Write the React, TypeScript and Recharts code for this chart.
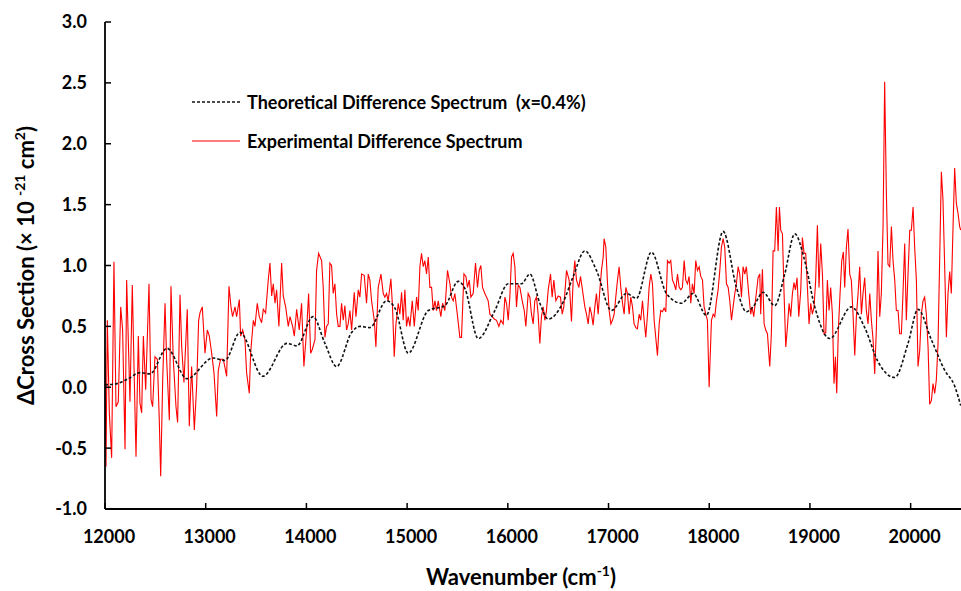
import React from 'react';
import { LineChart, Line, XAxis, YAxis, Legend } from 'recharts';

const FONT = "Lato, 'Open Sans', 'DejaVu Sans', sans-serif";

const xTicks = [12000, 13000, 14000, 15000, 16000, 17000, 18000, 19000, 20000];
const yTicks = [-1, -0.5, 0, 0.5, 1, 1.5, 2, 2.5, 3];

const seriesNames = ['Theoretical Difference Spectrum  (x=0.4%)', 'Experimental Difference Spectrum'];

const expWavenumbers = [
  12000, 12010, 12023, 12043, 12066, 12089, 12109, 12132, 12156, 12175, 12199, 12215, 12235, 12248, 12271, 12291,
  12308, 12331, 12347, 12364, 12381, 12404, 12437, 12457, 12473, 12496, 12520, 12539, 12553, 12573, 12596, 12612,
  12639, 12655, 12678, 12705, 12721, 12745, 12761, 12784, 12817, 12837, 12860, 12887, 12910, 12930, 12943, 12966,
  12993, 13016, 13036, 13059, 13082, 13109, 13125, 13148, 13175, 13208, 13231, 13251, 13267, 13291, 13307, 13334,
  13347, 13367, 13390, 13406, 13433, 13446, 13473, 13489, 13512, 13532, 13555, 13572, 13595, 13621, 13638, 13655,
  13671, 13688, 13704, 13727, 13754, 13770, 13794, 13820, 13837, 13863, 13880, 13903, 13929, 13952, 13975, 14002,
  14022, 14042, 14058, 14085, 14101, 14121,
  14151, 14167, 14184, 14200, 14217, 14233, 14250, 14266, 14283, 14300, 14316, 14333, 14349, 14366, 14382, 14399,
  14415, 14432, 14449, 14475, 14492, 14515, 14531, 14548, 14574, 14597, 14614, 14630, 14647, 14674, 14690, 14713,
  14740, 14763, 14779, 14796, 14812, 14839, 14855, 14872, 14889, 14912, 14928, 14945, 14961, 14978, 14994, 15011,
  15028, 15051, 15071, 15094, 15110, 15127, 15143, 15160, 15176, 15193, 15210, 15226, 15243, 15259, 15276, 15292,
  15309, 15335, 15352, 15375, 15401, 15425, 15441, 15458, 15474, 15501, 15524, 15540, 15564, 15584, 15600, 15617,
  15633, 15656, 15679, 15699, 15716, 15732, 15749, 15772, 15789, 15805, 15822, 15845, 15865, 15888, 15911, 15931,
  15954, 15971, 15987, 16004, 16020, 16037, 16053, 16070, 16086, 16103, 16120, 16143, 16163, 16179, 16202,
  16219, 16235, 16252, 16268, 16285, 16301, 16318, 16334, 16351, 16368, 16384, 16401, 16424, 16440, 16457, 16477,
  16500, 16523, 16540, 16556, 16583, 16609, 16632, 16649, 16665, 16682, 16705, 16722, 16741, 16765, 16781, 16798,
  16814, 16831, 16847, 16864, 16880, 16897, 16914, 16930, 16947, 16956, 16973, 16990, 17006, 17023, 17039, 17056,
  17072, 17089, 17105, 17122, 17139, 17155, 17172, 17188, 17205, 17221, 17238, 17254, 17271, 17287, 17304, 17320,
  17337, 17354, 17370, 17387, 17403, 17420, 17436, 17453, 17469, 17486, 17503, 17519, 17536, 17552, 17569, 17585,
  17602, 17618, 17635, 17651, 17668, 17685, 17701, 17718, 17734, 17751, 17767, 17784, 17800, 17817, 17833, 17850,
  17866, 17883, 17900, 17916, 17933, 17949, 17966, 17982, 17999, 18022, 18039, 18055, 18072, 18088, 18105, 18121,
  18138, 18154, 18171, 18188, 18204, 18221, 18237, 18254, 18270, 18287, 18303, 18320, 18336,
  18353, 18369, 18392, 18412, 18425, 18442, 18459, 18485, 18502, 18511, 18528, 18545, 18561, 18578, 18601, 18617,
  18634, 18650, 18667, 18684, 18697, 18710, 18727, 18743, 18760, 18776, 18793, 18809, 18826, 18842, 18856, 18872,
  18889, 18909, 18925, 18942, 18958, 18975, 18991, 19008, 19024, 19041, 19057, 19074, 19090, 19107, 19124, 19140,
  19157, 19173, 19190, 19206, 19223, 19239, 19253, 19266, 19282, 19299, 19316, 19332, 19345, 19362, 19378, 19395,
  19411, 19428, 19445, 19461, 19478, 19494, 19511, 19527, 19544, 19560, 19577, 19594, 19610, 19627, 19643, 19660,
  19676, 19693, 19709, 19726, 19742, 19759, 19775, 19792, 19809, 19825, 19842, 19858, 19875, 19891, 19908, 19924,
  19941, 19957, 19974, 19991, 20007, 20024, 20040, 20057, 20073, 20090, 20106, 20123, 20139, 20156, 20173, 20189,
  20206, 20222, 20239, 20255, 20272, 20288, 20305, 20321, 20338, 20355, 20371, 20388, 20404, 20421, 20437, 20454,
  20470, 20487, 20497,
];

const expValues = [
  0.30, -0.65, 0.55, -0.21, -0.58, 1.03, -0.16, -0.12, 0.66, 0.47, -0.51, 0.88, 0.28, -0.12, 0.84, 0.06,
  -0.57, 0.42, -0.13, -0.21, 0.42, -0.02, 0.85, -0.10, -0.16, 0.25, 0.23, -0.27, -0.73, 0.06, 0.69, 0.23,
  -0.27, 0.83, 0.23, -0.16, -0.29, 0.76, 0.34, 0.04, 0.64, -0.32, 0.17, -0.35, 0.01, 0.55, 0.61, 0.66,
  0.28, 0.47, 0.42, 0.28, 0.12, -0.24, 0.14, 0.23, 0.23, 0.09, 0.83, 0.66, 0.58, 0.66, 0.58, 0.72,
  0.42, 0.47, 0.39, 0.12, -0.05, 0.28, 0.55, 0.50, 0.69, 0.58, 0.53, 0.64, 0.61, 0.88, 1.02, 0.75,
  0.85, 0.69, 0.80, 0.50, 1.02, 0.75, 0.66, 0.50, 0.58, 0.50, 0.42, 0.64, 0.47, 0.69, 0.17, 0.47,
  0.77, 0.28, 0.31, 0.39, 0.96, 1.10,
  1.04, 0.82, 0.41, 0.50, 0.52, 1.02, 1.00, 0.77, 0.85, 0.60, 0.50, 0.50, 0.69, 0.55, 0.67, 0.47,
  0.52, 0.63, 0.47, 0.78, 0.58, 0.80, 0.74, 0.93, 0.92, 0.69, 0.93, 0.88, 0.71, 0.55, 0.33, 0.82,
  0.93, 0.77, 0.74, 0.77, 0.71, 0.89, 0.66, 0.25, 0.52, 0.69, 0.60, 0.78, 0.55, 0.80, 0.50, 0.58,
  0.50, 0.71, 0.50, 0.74, 0.63, 0.99, 1.10, 0.99, 1.04, 0.93, 1.07, 0.82, 0.82, 0.63, 0.71, 0.63,
  0.71, 0.58, 0.69, 0.63, 0.96, 0.85, 0.74, 0.71, 0.77, 0.58, 0.41, 0.41, 0.93, 0.91, 0.82, 0.88,
  0.74, 0.77, 1.02, 0.82, 0.96, 1.00, 0.82, 0.77, 0.74, 0.71, 0.60, 0.58, 0.56, 0.55, 0.50, 0.55,
  0.52, 0.74, 0.69, 0.55, 0.74, 1.07, 1.10, 0.99, 0.66, 0.84, 0.82, 0.71, 0.63, 0.50, 0.77,
  0.74, 0.60, 0.52, 0.71, 0.74, 0.60, 0.36, 0.58, 0.66, 0.55, 0.63, 0.80, 0.93, 0.74, 0.88, 0.71,
  0.75, 0.74, 0.60, 0.66, 0.96, 0.88, 0.54, 0.88, 1.04, 0.88, 0.82, 0.91, 0.80, 0.66, 0.60, 0.52,
  0.66, 0.60, 0.51, 0.66, 0.77, 0.60, 0.80, 0.96, 1.07, 1.22, 1.15, 0.85, 0.63, 0.52, 0.55, 0.60,
  0.74, 0.88, 0.99, 0.82, 0.69, 0.60, 0.82, 0.77, 0.60, 0.74, 0.66, 0.52, 0.49, 0.48, 0.60, 0.55,
  0.71, 0.55, 0.41, 0.60, 0.82, 0.93, 0.85, 0.55, 0.41, 0.26, 0.52, 0.63, 0.62, 0.65, 0.62, 1.04,
  1.02, 1.04, 0.88, 0.85, 0.80, 0.93, 0.82, 0.80, 0.82, 1.04, 0.88, 0.85, 0.91, 0.69, 0.85, 0.77,
  1.04, 0.96, 0.99, 0.91, 0.88, 0.66, 0.60, 0.55, 0.00, 0.55, 0.60, 0.58, 0.71, 0.80, 0.96, 1.15,
  1.22, 1.15, 0.85, 0.82, 0.71, 0.55, 0.66, 0.77, 0.85, 0.99, 0.93, 0.74, 0.99,
  0.93, 0.99, 0.77, 0.60, 0.66, 0.58, 0.71, 0.90, 0.93, 0.60, 0.97, 0.52, 0.47, 0.44, 0.17, 0.44,
  1.12, 1.12, 1.48, 1.12, 1.48, 1.29, 1.26, 0.77, 0.33, 0.49, 0.69, 0.58, 0.77, 0.86, 0.80, 0.90,
  0.58, 0.80, 1.23, 1.10, 1.10, 0.82, 0.52, 0.69, 0.60, 0.66, 0.88, 1.33, 0.82, 1.18, 0.93, 0.44,
  0.45, 0.88, 0.63, 0.82, 0.60, 0.03, 0.25, -0.05, 0.47, 0.77, 1.04, 1.11, 0.82, 1.15, 1.30, 0.93,
  0.88, 0.60, 0.26, 0.58, 0.77, 0.99, 0.60, 0.77, 0.90, 0.63, 0.52, 0.77, 0.55, 0.39, 0.11, 0.49,
  1.12, 0.58, 0.77, 1.32, 2.51, 1.59, 1.01, 0.99, 1.32, 1.04, 0.88, 0.63, 0.63, 0.44, 0.44, 0.77,
  1.18, 0.55, 0.93, 1.29, 1.29, 1.48, 1.15, 0.88, 0.17, 0.30, 0.60, 0.71, 0.74, 0.60, 0.33, -0.14,
  -0.11, 0.03, -0.05, 0.06, 0.36, 1.04, 1.77, 1.54, 0.99, 0.41, 0.77, 0.95, 0.77, 1.32, 1.80, 1.51,
  1.43, 1.32, 1.29,
];

const theoWavenumbers = [
  12000, 12119, 12230, 12347, 12447, 12615, 12814, 13072, 13191, 13340, 13568, 13806, 13906, 14065, 14184, 14300,
  14449, 14531, 14630, 14796, 14879, 15011, 15210, 15375, 15507, 15574, 15706, 15871, 16004, 16136, 16219, 16318,
  16401, 16550, 16649, 16765, 16880, 17029, 17178, 17277, 17426, 17575, 17724, 17840, 17972, 18138, 18270, 18369,
  18435, 18535, 18650, 18750, 18849, 18948, 19048, 19196, 19411, 19544, 19676, 19842, 19974, 20073, 20206, 20338,
  20437, 20497,
];

const theoValues = [
  0.02, 0.03, 0.07, 0.12, 0.11, 0.32, 0.07, 0.24, 0.22, 0.45, 0.09, 0.36, 0.34, 0.58, 0.36, 0.17,
  0.45, 0.50, 0.49, 0.71, 0.65, 0.28, 0.63, 0.67, 0.87, 0.81, 0.40, 0.63, 0.85, 0.85, 0.93, 0.69,
  0.56, 0.70, 0.91, 1.12, 0.96, 0.63, 0.77, 0.73, 1.11, 0.77, 0.69, 0.77, 0.59, 1.28, 0.82, 0.62,
  0.66, 0.78, 0.67, 0.93, 1.26, 1.04, 0.66, 0.40, 0.66, 0.49, 0.21, 0.08, 0.36, 0.64, 0.39, 0.14,
  0.01, -0.15,
];

const expData = expWavenumbers.map((wn, i) => ({ wn, v: expValues[i] }));
const theoData = theoWavenumbers.map((wn, i) => ({ wn, v: theoValues[i] }));

const XTick = (props: any) => {
  const { x, y, payload } = props;
  return (
    <text x={x + 4} y={y} dy="0.71em" textAnchor="middle" fill="#000" fontFamily={FONT} fontWeight={700} fontSize={18}>
      {payload.value}
    </text>
  );
};

const YTick = (props: any) => {
  const { x, y, payload } = props;
  return (
    <text x={x} y={y} dy="0.355em" textAnchor="end" fill="#000" fontFamily={FONT} fontWeight={700} fontSize={18}>
      {Number(payload.value).toFixed(1)}
    </text>
  );
};

const XTitle = (props: any) => {
  const vb = props.viewBox || { x: 105, y: 509, width: 856, height: 82 };
  const cx = vb.x + vb.width / 2 - 12;
  const cy = vb.y + 76;
  return (
    <text x={cx} y={cy} textAnchor="middle" fill="#000" fontFamily={FONT} fontWeight={700} fontSize={22}>
      Wavenumber (cm<tspan dy={-9} fontSize={14}>-1</tspan><tspan dy={9}>)</tspan>
    </text>
  );
};

const YTitle = (props: any) => {
  const vb = props.viewBox || { x: 0, y: 22, width: 105, height: 487 };
  const cx = vb.x + 34;
  const cy = vb.y + vb.height / 2;
  return (
    <text transform={`translate(${cx},${cy}) rotate(-90)`} x={0} y={0} textAnchor="middle" fill="#000" fontFamily={FONT} fontWeight={700} fontSize={22}>
      ΔCross Section (× 10 <tspan dy={-9} fontSize={14}>-21</tspan><tspan dy={9}> cm</tspan><tspan dy={-9} fontSize={14}>2</tspan><tspan dy={9}>)</tspan>
    </text>
  );
};

const renderLegend = () => (
  <div style={{ fontFamily: FONT, fontWeight: 700, fontSize: 18, color: '#000', lineHeight: '20px' }}>
    <div style={{ display: 'flex', alignItems: 'center', height: 20 }}>
      <svg width={56} height={10} style={{ flex: 'none' }}>
        <line x1={1} y1={5} x2={49} y2={5} stroke="#111" strokeWidth={1.5} strokeDasharray="3 2" />
      </svg>
      <span style={{ whiteSpace: 'pre' }}>{seriesNames[0]}</span>
    </div>
    <div style={{ display: 'flex', alignItems: 'center', height: 20, marginTop: 19 }}>
      <svg width={56} height={10} style={{ flex: 'none' }}>
        <line x1={1} y1={5} x2={49} y2={5} stroke="#ff0000" strokeWidth={1.2} />
      </svg>
      <span style={{ whiteSpace: 'pre' }}>{seriesNames[1]}</span>
    </div>
  </div>
);

export default function App() {
  return (
    <div style={{ position: 'absolute', left: 0, top: 0, width: 961, height: 591, background: '#fff' }}>
      <LineChart width={961} height={591} margin={{ top: 22, right: 0, bottom: 0, left: 0 }}>
        <XAxis
          dataKey="wn"
          type="number"
          domain={[12000, 20500]}
          ticks={xTicks}
          interval={0}
          allowDataOverflow
          height={82}
          tickSize={-6}
          tickMargin={27}
          tick={XTick}
          axisLine={{ stroke: '#000', strokeWidth: 1.8 }}
          tickLine={{ stroke: '#000', strokeWidth: 1.5 }}
          label={XTitle}
        />
        <XAxis
          xAxisId="top"
          orientation="top"
          type="number"
          domain={[12000, 20500]}
          ticks={xTicks}
          interval={0}
          allowDataOverflow
          height={0}
          tickSize={-6}
          tick={false}
          axisLine={{ stroke: '#000', strokeWidth: 1.8 }}
          tickLine={{ stroke: '#000', strokeWidth: 1.5 }}
        />
        <YAxis
          type="number"
          domain={[-1, 3]}
          ticks={yTicks}
          interval={0}
          allowDataOverflow
          width={105}
          tickSize={-6}
          tickMargin={24}
          tick={YTick}
          axisLine={{ stroke: '#000', strokeWidth: 1.8 }}
          tickLine={{ stroke: '#000', strokeWidth: 1.5 }}
          label={YTitle}
        />
        <Legend
          layout="vertical"
          align="center"
          verticalAlign="middle"
          content={renderLegend}
          wrapperStyle={{ left: 191, top: 92, width: 460 }}
        />
        <Line
          name={seriesNames[1]}
          data={expData}
          dataKey="v"
          type="linear"
          stroke="#ff0000"
          strokeWidth={1.1}
          dot={false}
          activeDot={false}
          isAnimationActive={false}
        />
        <Line
          name={seriesNames[0]}
          data={theoData}
          dataKey="v"
          type="monotone"
          stroke="#111"
          strokeWidth={1.6}
          strokeDasharray="3 2"
          dot={false}
          activeDot={false}
          isAnimationActive={false}
        />
      </LineChart>
    </div>
  );
}
